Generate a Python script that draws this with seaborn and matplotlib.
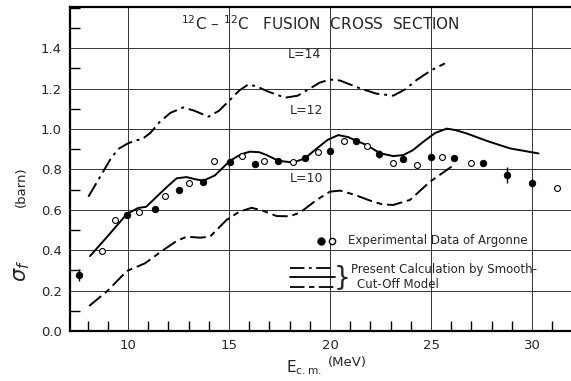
import numpy as np
import pandas as pd
import matplotlib
matplotlib.use("Agg")
import matplotlib.pyplot as plt
import seaborn as sns
from matplotlib.ticker import MultipleLocator, FormatStrFormatter

# --- data (E in MeV, sigma in barn) ---
filled_e = [7.57, 9.94, 11.34, 12.54, 13.73, 15.05, 16.29, 17.44, 18.76, 20.0,
            21.29, 22.44, 23.63, 24.98, 26.14, 27.59, 28.75, 29.98]
filled_s = [0.277, 0.574, 0.604, 0.698, 0.739, 0.838, 0.827, 0.843, 0.855, 0.893,
            0.942, 0.876, 0.850, 0.863, 0.855, 0.834, 0.772, 0.731]
filled_err = [0.03, 0.015, 0.0, 0.0, 0.015, 0.0, 0.0, 0.0, 0.0, 0.0,
              0.0, 0.02, 0.015, 0.0, 0.0, 0.0, 0.04, 0.02]

open_e = [8.73, 9.36, 10.54, 11.85, 13.02, 14.26, 15.63, 16.73, 18.18, 19.39,
          20.69, 21.81, 23.13, 24.29, 25.53, 26.96, 31.25]
open_s = [0.396, 0.550, 0.591, 0.668, 0.734, 0.843, 0.866, 0.842, 0.837, 0.886,
          0.942, 0.917, 0.834, 0.822, 0.863, 0.834, 0.710]

l12_e = [8.12, 9.0, 9.94, 10.5, 10.9, 11.42, 12.0, 12.41, 12.9, 13.3, 13.73, 14.3,
         15.05, 15.6, 16.04, 16.5, 16.87, 17.44, 18.18, 18.76, 19.3, 19.88, 20.41,
         20.9, 21.29, 21.81, 22.48, 23.13, 23.63, 24.1, 24.62, 25.2, 25.78, 26.2,
         26.77, 27.8, 28.91, 30.32]
l12_s = [0.371, 0.47, 0.579, 0.609, 0.615, 0.665, 0.72, 0.756, 0.762, 0.752, 0.744,
         0.77, 0.843, 0.875, 0.888, 0.885, 0.871, 0.843, 0.834, 0.855, 0.90, 0.946,
         0.97, 0.96, 0.942, 0.921, 0.88, 0.866, 0.871, 0.895, 0.937, 0.98, 1.002,
         0.995, 0.978, 0.94, 0.904, 0.879]

l14_e = [8.04, 8.6, 9.11, 9.5, 10.0, 10.4, 10.68, 11.1, 11.58, 12.1, 12.74, 13.3,
         13.98, 14.5, 15.05, 15.5, 15.96, 16.4, 16.87, 17.77, 18.4, 19.01, 19.5,
         20.0, 20.5, 21.49, 22.3, 23.13, 23.7, 24.29, 25.0, 25.69]
l14_s = [0.665, 0.76, 0.847, 0.90, 0.929, 0.945, 0.948, 0.98, 1.036, 1.08, 1.107,
         1.09, 1.061, 1.09, 1.144, 1.19, 1.221, 1.21, 1.188, 1.155, 1.165, 1.201,
         1.23, 1.245, 1.24, 1.201, 1.175, 1.165, 1.195, 1.243, 1.29, 1.325]

l10_e = [8.08, 9.0, 9.94, 10.84, 11.75, 12.4, 12.9, 13.56, 14.06, 14.88, 15.5,
         16.12, 16.7, 17.36, 18.0, 18.51, 19.34, 20.0, 20.5, 21.2, 22.0, 22.6,
         23.13, 23.96, 24.95, 26.02]
l10_s = [0.124, 0.20, 0.297, 0.335, 0.401, 0.445, 0.467, 0.462, 0.467, 0.55, 0.59,
         0.61, 0.595, 0.569, 0.568, 0.586, 0.649, 0.69, 0.695, 0.675, 0.645, 0.627,
         0.624, 0.649, 0.739, 0.814]

curves = pd.concat([
    pd.DataFrame({"E": l14_e, "sigma": l14_s, "L": "L=14"}),
    pd.DataFrame({"E": l12_e, "sigma": l12_s, "L": "L=12"}),
    pd.DataFrame({"E": l10_e, "sigma": l10_s, "L": "L=10"}),
])
points = pd.concat([
    pd.DataFrame({"E": filled_e, "sigma": filled_s, "kind": "filled"}),
    pd.DataFrame({"E": open_e, "sigma": open_s, "kind": "open"}),
])

sns.set_style("white")
plt.rcParams["font.family"] = ["DejaVu Sans"]

fig = plt.figure(figsize=(5.71, 3.81), dpi=100)
ax = fig.add_axes([0.1226, 0.1312, 0.8774, 0.8504])

# theory curves
dash_styles = {"L=14": (8, 2.5, 1.5, 2.5), "L=12": "", "L=10": (8, 2.5, 3, 2.5)}
sns.lineplot(data=curves, x="E", y="sigma", hue="L", style="L",
             palette={"L=14": "black", "L=12": "black", "L=10": "black"},
             dashes=dash_styles, sort=False, estimator=None, linewidth=1.4,
             legend=False, ax=ax)

# experimental points
ax.errorbar(filled_e, filled_s, yerr=filled_err, fmt="none", ecolor="black",
            elinewidth=1.0, capsize=0)
ax.errorbar(open_e, open_s, yerr=[0.012] * len(open_e), fmt="none",
            ecolor="black", elinewidth=0.8, capsize=0)
sns.scatterplot(data=points[points.kind == "filled"], x="E", y="sigma",
                color="black", s=22, edgecolor="black", linewidth=0.6,
                marker="o", legend=False, ax=ax, zorder=4)
sns.scatterplot(data=points[points.kind == "open"], x="E", y="sigma",
                color="white", s=18, edgecolor="black", linewidth=0.8,
                marker="o", legend=False, ax=ax, zorder=4)

ax.set_xlim(7.13, 31.93)
ax.set_ylim(0.0, 1.604)
ax.xaxis.set_major_locator(MultipleLocator(5))
ax.xaxis.set_minor_locator(MultipleLocator(1))
ax.yaxis.set_minor_locator(MultipleLocator(0.1))
ax.set_yticks(np.arange(0.0, 1.41, 0.2))
ax.yaxis.set_major_formatter(FormatStrFormatter("%.1f"))
ax.grid(True, which="major", color="0.2", linewidth=0.7)
ax.tick_params(which="both", direction="in", color="black", labelsize=9.5)
ax.tick_params(which="minor", length=7, width=1.0, bottom=True, left=True)
ax.tick_params(which="major", length=0, pad=6)
ax.spines["right"].set_visible(False)
for side in ["left", "bottom", "top"]:
    ax.spines[side].set_linewidth(1.6)
    ax.spines[side].set_color("black")
ax.set_xlabel("")
ax.set_ylabel("")

# in-plot annotations
ax.text(0.5, 0.95, r"$^{12}$C – $^{12}$C   FUSION  CROSS  SECTION",
        transform=ax.transAxes, ha="center", va="center", fontsize=11)
ax.text(17.9, 1.37, "L=14", fontsize=9, ha="left", va="center")
ax.text(18.0, 1.09, "L=12", fontsize=9, ha="left", va="center")
ax.text(18.0, 0.755, "L=10", fontsize=9, ha="left", va="center")

# hand-drawn legend
ax.plot([19.55], [0.446], "o", color="black", ms=5)
ax.plot([20.1], [0.446], "o", mfc="white", mec="black", ms=4.5)
ax.text(20.9, 0.446, "Experimental Data of Argonne", fontsize=8.5, va="center")
ax.plot([18.0, 20.25], [0.312, 0.312], color="black", lw=1.3,
        dashes=(8, 2.5, 1.5, 2.5))
ax.plot([18.0, 20.25], [0.267, 0.267], color="black", lw=1.3)
ax.plot([18.0, 20.25], [0.220, 0.220], color="black", lw=1.3,
        dashes=(8, 2.5, 3, 2.5))
ax.text(20.2, 0.263, "}", fontsize=19, va="center", ha="left")
ax.text(21.05, 0.305, "Present Calculation by Smooth-", fontsize=8.5, va="center")
ax.text(21.35, 0.232, "Cut-Off Model", fontsize=8.5, va="center")

# axis labels
fig.text(0.038, 0.29, r"$\sigma_f$", rotation=90, fontsize=15, ha="center", va="center")
fig.text(0.038, 0.51, "(barn)", rotation=90, fontsize=9.5, ha="center", va="center")
fig.text(0.50, 0.035, r"$\mathregular{E_{c.m.}}$", fontsize=11, ha="left", va="center")
fig.text(0.575, 0.048, "(MeV)", fontsize=9.5, ha="left", va="center")

plt.savefig("out.png", dpi=100)
